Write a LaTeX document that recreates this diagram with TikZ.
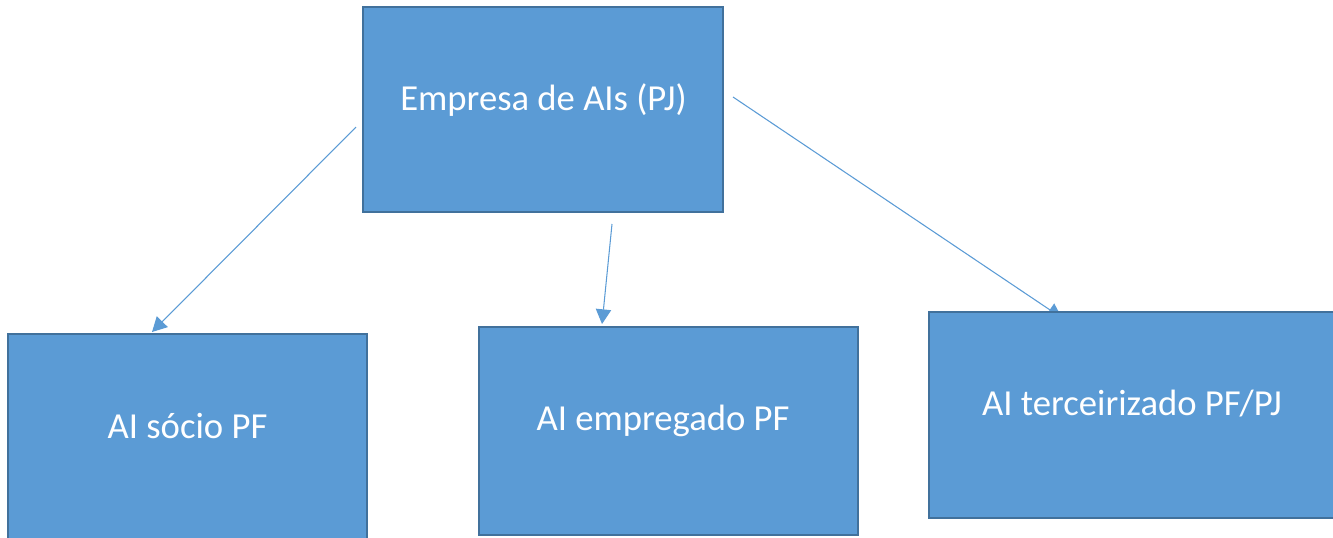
\documentclass[tikz,border=0pt]{standalone}
\usepackage{fontspec}
\setmainfont{Carlito}
\usetikzlibrary{arrows.meta}
\definecolor{boxfill}{HTML}{5B9BD5}
\definecolor{boxline}{HTML}{41719C}
\definecolor{arrowc}{HTML}{5B9BD5}
\begin{document}
\begin{tikzpicture}[x=0.75pt,y=-0.75pt,
  box/.style={draw=boxline,fill=boxfill,line width=1.6pt,inner sep=0pt,outer sep=0pt},
  lbl/.style={text=white,font=\fontsize{27.5pt}{33pt}\selectfont,anchor=base,inner sep=0pt},
  conn/.style={draw=arrowc,line width=0.8pt,-{Triangle[length=11pt,width=11.5pt]}}]
\useasboundingbox (0,0) rectangle (1333,537);
% connector end points
\coordinate (s1) at (356,127);
\coordinate (e1) at (152,332);
\coordinate (s2) at (612,224);
\coordinate (e2) at (602,324);
\coordinate (s3) at (733,97);
\coordinate (e3) at (1062,318);
\draw[conn] (s1) -- (e1);
\draw[conn] (s2) -- (e2);
\draw[conn] (s3) -- (e3);
% boxes
\node[box,minimum width=270pt,minimum height=153.75pt] (top) at (543,109.5) {};
\node[box,minimum width=269.25pt,minimum height=158.25pt] (left) at (187.5,439.5) {};
\node[box,minimum width=284.25pt,minimum height=156pt] (mid) at (668.5,431) {};
\node[box,minimum width=308.25pt,minimum height=154.5pt] (right) at (1134.5,415) {};
% labels
\node[lbl] (tt) at (543.5,110) {Empresa de AIs (PJ)};
\node[lbl] (lt) at (187.5,438) {AI sócio PF};
\node[lbl] (mt) at (663,430) {AI empregado PF};
\node[lbl] (rt) at (1132,415) {AI terceirizado PF/PJ};
\end{tikzpicture}
\end{document}
